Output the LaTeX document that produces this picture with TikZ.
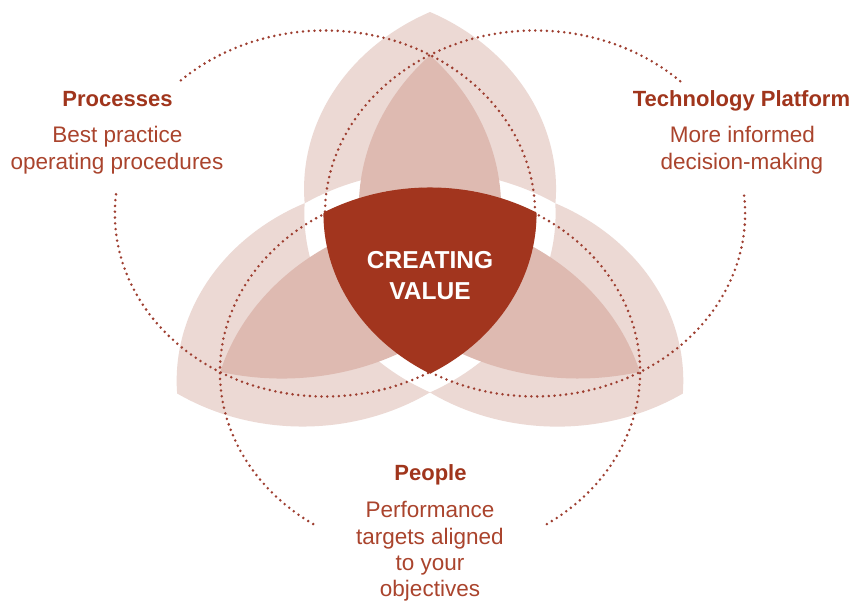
\documentclass[tikz,border=0pt]{standalone}
\usepackage{fontspec}
\setmainfont{Liberation Sans}
\definecolor{lightpk}{RGB}{236,217,212}
\definecolor{midpk}{RGB}{222,186,177}
\definecolor{deepred}{RGB}{162,53,30}
\definecolor{dotred}{RGB}{158,62,48}
\definecolor{headred}{RGB}{160,53,28}
\definecolor{bodyred}{RGB}{170,68,45}
\begin{document}
\begin{tikzpicture}[x=1pt,y=1pt,
  lightpetal/.style={fill=lightpk},
  midpetal/.style={fill=midpk},
  dotring/.style={draw=dotred, line width=2.8pt, line cap=round, dash pattern=on 0pt off 5.8pt},
  core/.style={fill=deepred, draw=deepred, line width=3pt, line join=round},
  head/.style={font=\fontsize{22}{26}\selectfont\bfseries, text=headred, anchor=base, inner sep=0pt},
  body/.style={font=\fontsize{22.5}{26}\selectfont, text=bodyred, anchor=base, inner sep=0pt},
  coretext/.style={font=\fontsize{24.5}{28}\selectfont\bfseries, text=white, anchor=base, inner sep=0pt}
]
\useasboundingbox (0,0) rectangle (855,-601);
\fill[white] (0,0) rectangle (855,-601);
\begin{scope}[shift={(430,-266.33)}, xscale=1.148]
  % light petals
  \foreach \r in {0,120,240}{
    \fill[lightpetal, rotate=\r] (0,254.3)
      arc[start angle=116.34, end angle=184.24, radius=197.2]
      arc[start angle=122.91, end angle=57.09, radius=201]
      arc[start angle=-4.24, end angle=63.66, radius=197.2] -- cycle;
  }
  % medium petals
  \foreach \r in {0,120,240}{
    \fill[midpetal, rotate=\r] (0,211)
      arc[start angle=135.74, end angle=177.88, radius=218.5]
      arc[start angle=109.75, end angle=70.25, radius=183]
      arc[start angle=2.12, end angle=44.26, radius=218.5] -- cycle;
  }
  % dotted circles
  \draw[dotring] (-273.50,71.96) arc[start angle=174, end angle=493.7, radius=183];
  \draw[dotring] (217.93,185.13) arc[start angle=46.3, end angle=366, radius=183];
  \draw[dotring] (101.80,-257.72) arc[start angle=303.8, end angle=597.6, radius=183];
  % core
  \path[core] (-91.5,52.83)
    arc[start angle=180, end angle=240, radius=183]
    arc[start angle=300, end angle=360, radius=183]
    arc[start angle=60, end angle=120, radius=183] -- cycle;
\end{scope}
\node[coretext] (cv1) at (430,-268.3) {CREATING};
\node[coretext] (cv2) at (430,-300) {VALUE};
\node[head] (proc) at (117.5,-106.5) {Processes};
\node[body] (procA) at (117.5,-142.5) {Best practice};
\node[body] (procB) at (117,-169.5) {operating procedures};
\node[head] (tech) at (741.5,-106.5) {Technology Platform};
\node[body] (techA) at (742.5,-142.5) {More informed};
\node[body] (techB) at (742,-169.5) {decision-making};
\node[head] (ppl) at (430.5,-481) {People};
\node[body] (pplA) at (430,-518) {Performance};
\node[body] (pplB) at (430,-544.5) {targets aligned};
\node[body] (pplC) at (430,-571) {to your};
\node[body] (pplD) at (430,-597) {objectives};
\end{tikzpicture}
\end{document}
